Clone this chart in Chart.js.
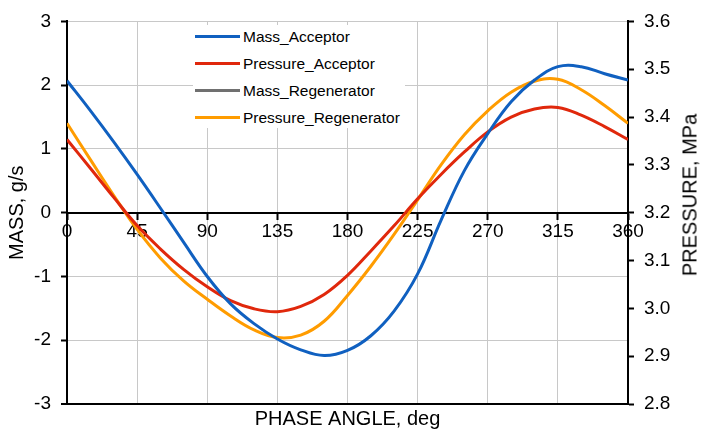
<!DOCTYPE html>
<html lang="en">
<head>
  <meta charset="UTF-8" />
  <title>Mass and pressure vs phase angle</title>
  <script src="https://cdn.jsdelivr.net/npm/chart.js"></script>
  <style>
    body {
      margin: 0;
      padding: 0;
      background: #fff;
      font-family: 'Liberation Sans', Arial, sans-serif;
    }
    .wrap {
      position: relative;
      width: 701px;
      height: 434px;
    }
    #legend {
      position: absolute;
      left: 193px;
      top: 25px;
      width: 212px;
      height: 103px;
      background: #fff;
    }
    .item {
      position: absolute;
      left: 2px;
      height: 20px;
      font-size: 15.5px;
      color: #000;
      white-space: nowrap;
    }
    .item span.swatch {
      display: inline-block;
      width: 45px;
      height: 3px;
      vertical-align: middle;
      margin-right: 3px;
    }
    .item span { vertical-align: middle; }
    #rightTitle {
      position: absolute;
      left: 690px;
      top: 195px;
      font-size: 20px;
      color: #000;
      white-space: nowrap;
      transform: translate(-50%, -50%) rotate(-90deg);
    }
  </style>
</head>
<body>
<div class="wrap">
  <canvas id="chart"></canvas>
  <div id="legend"></div>
  <div id="rightTitle">PRESSURE, MPa</div>
</div>
<script>
// phase angle, deg
const angles = [0, 15, 30, 45, 60, 75, 90, 105, 120, 135, 150, 165, 180,
                195, 210, 225, 240, 255, 270, 285, 300, 315, 330, 345, 360];

// mass flow, g/s (left axis)
const massAcceptor = [2.07, 1.60, 1.11, 0.60, 0.07, -0.47, -1.00, -1.43, -1.74, -1.98, -2.15, -2.24, -2.16,
                      -1.93, -1.54, -0.96, -0.12, 0.66, 1.24, 1.74, 2.08, 2.29, 2.29, 2.18, 2.08];
// no visible curve in the picture, only the legend entry
const massRegenerator = [];

// pressure, MPa (right axis)
const pressureAcceptor = [3.353, 3.293, 3.232, 3.173, 3.124, 3.081, 3.045, 3.016, 2.999, 2.993, 3.004, 3.029, 3.069,
                          3.120, 3.173, 3.229, 3.280, 3.327, 3.369, 3.400, 3.417, 3.420, 3.404, 3.380, 3.353];
const pressureRegenerator = [3.387, 3.311, 3.236, 3.165, 3.105, 3.057, 3.019, 2.984, 2.955, 2.939, 2.944, 2.973, 3.027,
                             3.088, 3.155, 3.227, 3.300, 3.363, 3.413, 3.452, 3.475, 3.479, 3.457, 3.424, 3.387];

const xTicks = [0, 360, 45];      // min, max, step
const massTicks = [-3, 3, 1];
const pressureTicks = [2.8, 3.6, 0.1];

function pts(vals) {
  return vals.map((v, i) => ({ x: angles[i], y: v }));
}

Chart.defaults.font.family = "'Liberation Sans', Arial, sans-serif";
Chart.defaults.color = '#000';

const GRID = '#c8c8c8';

const datasets = [
  { label: 'Mass_Acceptor', data: pts(massAcceptor), borderColor: '#1060c0', yAxisID: 'y' },
  { label: 'Pressure_Acceptor', data: pts(pressureAcceptor), borderColor: '#e0280c', yAxisID: 'y1' },
  { label: 'Mass_Regenerator', data: pts(massRegenerator), borderColor: '#707070', yAxisID: 'y' },
  { label: 'Pressure_Regenerator', data: pts(pressureRegenerator), borderColor: '#ff9c00', yAxisID: 'y1' }
];
datasets.forEach(d => {
  d.borderWidth = 3;
  d.pointRadius = 0;
  d.tension = 0.4;
  d.fill = false;
});

const chart = new Chart(document.getElementById('chart'), {
  type: 'line',
  data: { datasets: datasets },
  options: {
    responsive: true,
    maintainAspectRatio: false,
    animation: false,
    devicePixelRatio: 1,
    layout: { padding: { top: 13, left: 0, right: 0, bottom: 0 } },
    plugins: { legend: { display: false }, tooltip: { enabled: false } },
    scales: {
      x: {
        type: 'linear',
        position: { y: 0 },
        min: xTicks[0], max: xTicks[1],
        ticks: { stepSize: xTicks[2], font: { size: 19 }, padding: 2, maxRotation: 0 },
        grid: {
          color: ctx => (ctx.tick && (ctx.tick.value === 0 || ctx.tick.value === 360)) ? 'rgba(0,0,0,0)' : GRID,
          tickColor: '#000', tickLength: 6, tickWidth: 2
        },
        border: { color: '#000', width: 2 },
        afterFit: s => { s.height = 0; }
      },
      x2: {
        type: 'linear',
        position: 'bottom',
        min: xTicks[0], max: xTicks[1],
        ticks: { display: false },
        grid: { display: false, drawTicks: false },
        border: { display: false },
        title: { display: true, text: 'PHASE ANGLE, deg', font: { size: 20 }, padding: { top: 3, bottom: 3 } },
        afterFit: s => { s.height = 30; }
      },
      y: {
        position: 'left',
        min: massTicks[0], max: massTicks[1],
        ticks: { stepSize: massTicks[2], font: { size: 19 }, padding: 10 },
        grid: {
          color: ctx => (ctx.tick && ctx.tick.value === -3) ? '#000' : GRID,
          lineWidth: ctx => (ctx.tick && ctx.tick.value === -3) ? 2 : 1,
          tickColor: '#000', tickLength: 6, tickWidth: 2
        },
        border: { color: '#000', width: 2 },
        title: { display: true, text: 'MASS, g/s', font: { size: 20 }, padding: { top: 5, bottom: 0 } },
        afterFit: s => { s.width = 67; }
      },
      y1: {
        position: 'right',
        min: pressureTicks[0], max: pressureTicks[1],
        ticks: { stepSize: pressureTicks[2], font: { size: 19 }, padding: 10 },
        grid: { drawOnChartArea: false, tickColor: '#000', tickLength: 6, tickWidth: 2 },
        border: { color: '#000', width: 2 },
        afterFit: s => { s.width = 73; }
      }
    }
  }
});

// legend inside the plot, built from the datasets
const legend = document.getElementById('legend');
chart.data.datasets.forEach((d, i) => {
  const row = document.createElement('div');
  row.className = 'item';
  row.style.top = (2 + i * 27) + 'px';
  row.innerHTML = '<span class="swatch" style="background:' + d.borderColor + '"></span><span>' + d.label + '</span>';
  legend.appendChild(row);
});
</script>
</body>
</html>
